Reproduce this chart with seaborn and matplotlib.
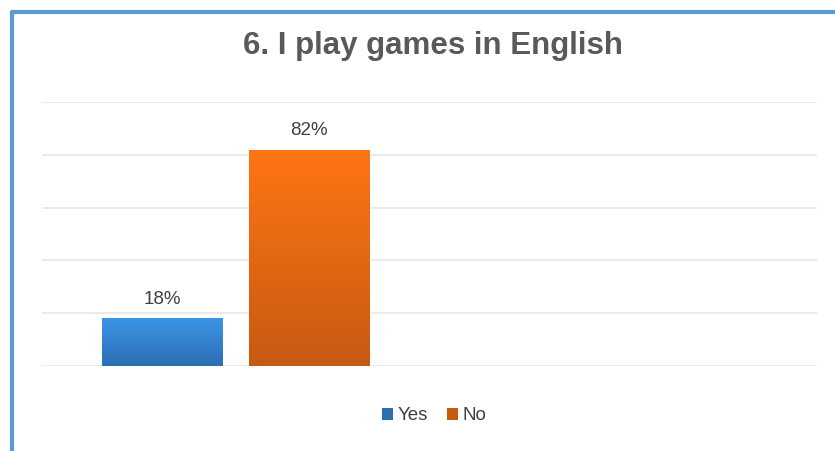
import numpy as np
import pandas as pd
import seaborn as sns
import matplotlib.pyplot as plt
from matplotlib.lines import Line2D
from matplotlib.patches import Patch
from matplotlib.colors import LinearSegmentedColormap

# answers to question 6
question = ["6. I play games in English"]
answers = ["Yes", "No"]
shares = [0.18, 0.82]

colors_top = {"Yes": "#3d93e6", "No": "#ff7514"}
colors_bottom = {"Yes": "#2b6fb3", "No": "#c75a12"}

df = pd.DataFrame({"q": ["Q6"] * len(answers), "answer": answers, "share": shares})

sns.set_theme(style="white")
plt.rcParams['font.family'] = ['Liberation Sans', 'DejaVu Sans']

fig = plt.figure(figsize=(8.35, 4.51), dpi=100)
ax = fig.add_axes([42 / 835, 85 / 451, 775 / 835, 264 / 451])

sns.barplot(data=df, x="q", y="share", hue="answer", hue_order=answers,
            palette=colors_top, width=0.76, gap=0.18, ax=ax, legend=False)

ax.set_xlim(-0.5, 1.5)
ax.set_ylim(0, 1.0)
ax.set_yticks(np.arange(0, 1.01, 0.2))
ax.yaxis.grid(True, color="#e6e6e6", linewidth=1.2)
ax.set_axisbelow(True)
ax.set_xticks([])
ax.set_yticklabels([])
ax.tick_params(left=False, bottom=False)
ax.set_xlabel("")
ax.set_ylabel("")
for s in ax.spines.values():
    s.set_visible(False)

# gradient fill for the bars
for patch, ans, val in zip(ax.patches, answers, shares):
    x0, y0 = patch.get_x(), patch.get_y()
    w, h = patch.get_width(), patch.get_height()
    cmap = LinearSegmentedColormap.from_list(ans, [colors_bottom[ans], colors_top[ans]])
    grad = np.linspace(0, 1, 100).reshape(-1, 1)
    im = ax.imshow(grad, cmap=cmap, origin="lower", aspect="auto",
                   extent=[x0, x0 + w, y0, y0 + h], zorder=3)
    im.set_clip_path(patch)
    patch.set_facecolor("none")
    ax.text(x0 + w / 2, val + 0.04, f"{val:.0%}", ha="center", va="bottom",
            fontsize=13.5, color="#404040")

ax.set_xlim(-0.5, 1.5)
ax.set_ylim(0, 1.0)

fig.text(433 / 835, 1 - 46 / 451, question[0], ha="center", va="center",
         fontsize=22.5, fontweight="bold", color="#595959")

handles = [Patch(facecolor=colors_bottom[a], edgecolor="none") for a in answers]
fig.legend(handles, answers, loc="center", bbox_to_anchor=(434 / 835, 1 - 416 / 451),
           ncol=2, frameon=False, fontsize=13.5, handlelength=0.6, handleheight=0.6,
           handletextpad=0.25, columnspacing=1.0, labelcolor="#404040")

# blue frame on the left and top
fig.add_artist(Line2D([12 / 835, 12 / 835], [0, 1 - 12 / 451], color="#5b9bd5",
                      linewidth=3, transform=fig.transFigure))
fig.add_artist(Line2D([12 / 835, 1], [1 - 12 / 451, 1 - 12 / 451], color="#5b9bd5",
                      linewidth=3, transform=fig.transFigure))

fig.savefig("out.png", dpi=100)
